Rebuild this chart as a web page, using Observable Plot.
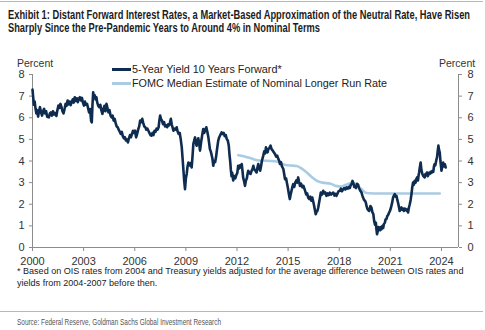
<!DOCTYPE html>
<html>
<head>
<meta charset="utf-8">
<script src="https://cdn.jsdelivr.net/npm/d3@7"></script>
<script src="https://cdn.jsdelivr.net/npm/@observablehq/plot@0.6"></script>
<style>
  html, body { margin: 0; padding: 0; background: #fff; }
  #wrap { position: relative; width: 485px; height: 330px; overflow: hidden; font-family: "Liberation Sans", Arial, sans-serif; }
  .rule { position: absolute; left: 0; width: 483px; height: 1px; background: #b8b8b8; }
  .fit { position: absolute; white-space: nowrap; display: inline-block; transform-origin: 0 50%; }
  .title { left: 8px; font-weight: bold; font-size: 12px; line-height: 13px; color: #1c1c1c; }
  #chart { position: absolute; left: 0; top: 58px; }
  .pct { position: absolute; top: 57px; font-size: 10.5px; color: #333; }
  .leg { position: absolute; left: 112px; font-size: 10.8px; color: #222; white-space: nowrap; }
  .leg span.sw { display: inline-block; width: 19px; height: 3px; vertical-align: middle; margin-right: 1px; position: relative; top: -1px; }
  #note { position: absolute; left: 17px; top: 266px; width: 468px; font-size: 9.05px; line-height: 11.5px; color: #222; }
  .source { left: 17px; top: 316px; font-size: 9.5px; line-height: 11px; color: #555; }
</style>
</head>
<body>
<div id="wrap">
  <div class="rule" style="top:1px"></div>
  <div class="fit title" style="top:9px" data-w="462">Exhibit 1: Distant Forward Interest Rates, a Market-Based Approximation of the Neutral Rate, Have Risen</div>
  <div class="fit title" style="top:21.5px" data-w="312">Sharply Since the Pre-Pandemic Years to Around 4% in Nominal Terms</div>
  <div id="chart"></div>
  <div class="pct" style="left:17px">Percent</div>
  <div class="pct" style="left:439px">Percent</div>
  <div class="leg" style="top:63px"><span class="sw" style="background:#0e2b50"></span>5-Year Yield 10 Years Forward*</div>
  <div class="leg" style="top:77px"><span class="sw" style="background:#a9cce4"></span>FOMC Median Estimate of Nominal Longer Run Rate</div>
  <div id="note">* Based on OIS rates from 2004 and Treasury yields adjusted for the average difference between OIS rates and yields from 2004-2007 before then.</div>
  <div class="rule" style="top:311px"></div>
  <div class="fit source" data-w="204">Source: Federal Reserve, Goldman Sachs Global Investment Research</div>
</div>
<script>
const xTicks = [2000, 2003, 2006, 2009, 2012, 2015, 2018, 2021, 2024];
const yTicks = [0, 1, 2, 3, 4, 5, 6, 7, 8];
const xDomain = [2000, 2025];
const yDomain = [0, 8];

// 5-Year Yield 10 Years Forward* : [year, percent]
const forwardYield = [
[2000.00,7.30],[2000.04,6.95],[2000.08,6.60],[2000.13,6.75],[2000.18,6.40],[2000.23,6.20],[2000.28,6.35],[2000.33,6.05],[2000.38,6.30],[2000.44,6.49],
[2000.50,6.25],[2000.56,6.10],[2000.62,6.30],[2000.68,6.41],[2000.74,6.20],[2000.80,6.30],[2000.86,6.05],[2000.96,6.02],[2001.02,6.20],[2001.08,6.25],
[2001.14,6.10],[2001.20,6.30],[2001.26,6.15],[2001.32,6.22],[2001.40,6.08],[2001.46,6.35],[2001.52,6.56],[2001.58,6.45],[2001.64,6.64],[2001.70,6.50],
[2001.76,6.30],[2001.82,6.20],[2001.88,6.40],[2001.94,6.64],[2002.00,6.55],[2002.06,6.80],[2002.12,6.62],[2002.18,6.75],[2002.24,6.58],[2002.30,6.72],
[2002.36,6.85],[2002.42,6.70],[2002.48,6.95],[2002.54,6.78],[2002.60,6.90],[2002.66,6.72],[2002.72,6.88],[2002.78,6.95],[2002.84,6.80],[2002.90,6.92],
[2002.96,6.70],[2003.02,6.56],[2003.08,6.75],[2003.14,6.60],[2003.20,6.64],[2003.26,6.45],[2003.32,6.25],[2003.38,6.40],[2003.44,5.85],[2003.48,5.79],
[2003.52,6.60],[2003.56,7.18],[2003.60,6.95],[2003.64,7.05],[2003.70,6.85],[2003.75,6.95],[2003.80,6.70],[2003.86,6.55],[2003.92,6.49],[2003.98,6.60],
[2004.04,6.35],[2004.10,6.18],[2004.16,6.40],[2004.22,6.55],[2004.28,6.30],[2004.34,6.64],[2004.40,6.45],[2004.46,6.25],[2004.52,6.35],[2004.58,6.10],
[2004.64,6.02],[2004.70,6.10],[2004.76,5.87],[2004.82,5.95],[2004.88,5.75],[2004.94,5.60],[2005.00,5.56],[2005.06,5.45],[2005.12,5.35],[2005.18,5.25],
[2005.24,5.35],[2005.30,5.15],[2005.36,5.05],[2005.42,5.10],[2005.48,4.95],[2005.54,5.00],[2005.60,4.86],[2005.66,5.05],[2005.72,5.20],[2005.78,5.10],
[2005.84,5.25],[2005.90,5.40],[2005.96,5.30],[2006.02,5.40],[2006.08,5.09],[2006.14,5.25],[2006.20,5.45],[2006.26,5.60],[2006.32,5.87],[2006.38,5.80],
[2006.44,5.95],[2006.50,5.75],[2006.56,5.60],[2006.62,5.56],[2006.68,5.45],[2006.74,5.50],[2006.80,5.40],[2006.86,5.30],[2006.92,5.20],[2006.98,5.17],
[2007.04,5.30],[2007.10,5.20],[2007.16,5.40],[2007.22,5.35],[2007.28,5.50],[2007.34,5.45],[2007.40,5.56],[2007.45,5.90],[2007.49,6.10],[2007.54,5.95],
[2007.60,5.87],[2007.66,5.70],[2007.72,5.80],[2007.78,5.60],[2007.84,5.65],[2007.90,5.56],[2007.96,5.70],[2008.02,5.65],[2008.07,5.79],[2008.12,5.95],
[2008.17,5.70],[2008.22,5.55],[2008.27,5.40],[2008.33,5.50],[2008.40,5.45],[2008.46,5.56],[2008.52,5.35],[2008.58,5.25],[2008.64,5.30],[2008.70,5.00],
[2008.76,4.63],[2008.80,4.20],[2008.86,3.55],[2008.90,3.10],[2008.95,2.70],[2009.00,3.20],[2009.05,3.40],[2009.10,3.75],[2009.15,3.93],[2009.22,3.80],
[2009.28,3.90],[2009.34,3.70],[2009.39,4.20],[2009.44,4.79],[2009.49,4.95],[2009.54,5.09],[2009.59,4.85],[2009.63,4.71],[2009.68,4.90],[2009.73,5.05],
[2009.78,4.80],[2009.83,4.48],[2009.90,4.90],[2009.96,5.20],[2010.02,5.48],[2010.08,5.30],[2010.14,5.45],[2010.20,5.56],[2010.26,5.35],[2010.32,5.10],
[2010.37,4.80],[2010.41,4.55],[2010.46,4.45],[2010.50,4.32],[2010.56,4.10],[2010.61,3.78],[2010.66,4.00],[2010.72,3.95],[2010.77,4.17],[2010.83,4.55],
[2010.90,4.94],[2010.96,5.10],[2011.02,5.20],[2011.10,5.32],[2011.16,5.25],[2011.22,5.30],[2011.28,5.15],[2011.34,5.20],[2011.40,5.02],[2011.46,4.95],
[2011.52,4.70],[2011.56,4.30],[2011.60,4.00],[2011.64,3.60],[2011.68,3.30],[2011.72,3.45],[2011.78,3.10],[2011.84,3.30],[2011.90,3.20],[2011.96,3.35],
[2012.02,3.45],[2012.07,3.78],[2012.12,3.65],[2012.18,3.80],[2012.24,3.70],[2012.28,3.86],[2012.33,3.50],[2012.36,3.24],[2012.42,3.05],[2012.47,2.85],
[2012.52,3.08],[2012.58,3.20],[2012.62,3.40],[2012.66,3.55],[2012.72,3.45],[2012.80,3.40],[2012.86,3.55],[2012.92,3.65],[2012.96,3.78],[2013.02,3.60],
[2013.08,3.55],[2013.15,3.47],[2013.20,3.70],[2013.25,3.86],[2013.30,3.65],[2013.36,3.55],[2013.40,3.70],[2013.46,4.00],[2013.54,4.24],[2013.60,4.45],
[2013.66,4.35],[2013.70,4.63],[2013.76,4.50],[2013.80,4.40],[2013.84,4.55],[2013.90,4.60],[2013.97,4.71],[2014.03,4.55],[2014.10,4.48],[2014.16,4.40],
[2014.23,4.32],[2014.30,4.20],[2014.36,4.25],[2014.43,4.09],[2014.48,4.00],[2014.52,3.86],[2014.58,3.95],[2014.64,3.75],[2014.72,3.63],[2014.77,3.40],
[2014.82,3.16],[2014.88,3.20],[2014.94,2.95],[2015.00,2.70],[2015.05,2.45],[2015.10,2.24],[2015.15,2.45],[2015.20,2.62],[2015.25,2.80],[2015.30,2.93],
[2015.36,2.80],[2015.42,3.00],[2015.48,3.10],[2015.54,3.00],[2015.59,3.24],[2015.64,3.05],[2015.70,2.85],[2015.76,2.95],[2015.84,2.78],[2015.90,2.85],
[2016.00,2.62],[2016.06,2.45],[2016.12,2.50],[2016.18,2.30],[2016.24,2.24],[2016.30,2.35],[2016.36,2.16],[2016.42,2.31],[2016.48,2.10],[2016.53,1.92],
[2016.58,1.70],[2016.62,1.54],[2016.67,1.65],[2016.72,1.69],[2016.77,1.85],[2016.82,2.08],[2016.87,2.30],[2016.92,2.54],[2016.98,2.45],[2017.06,2.62],
[2017.12,2.50],[2017.18,2.55],[2017.25,2.39],[2017.32,2.50],[2017.38,2.42],[2017.45,2.54],[2017.52,2.45],[2017.58,2.50],[2017.65,2.54],[2017.72,2.40],
[2017.78,2.48],[2017.84,2.39],[2017.90,2.50],[2017.96,2.60],[2018.04,2.62],[2018.10,2.72],[2018.16,2.60],[2018.23,2.70],[2018.30,2.75],[2018.36,2.68],
[2018.43,2.78],[2018.50,2.72],[2018.56,2.80],[2018.62,2.75],[2018.68,2.90],[2018.74,2.95],[2018.78,3.08],[2018.84,2.95],[2018.88,2.80],[2018.92,2.85],
[2018.98,2.75],[2019.04,2.95],[2019.11,2.90],[2019.16,2.75],[2019.22,2.65],[2019.31,2.54],[2019.36,2.40],[2019.40,2.31],[2019.46,2.20],[2019.52,2.15],
[2019.56,2.08],[2019.61,1.90],[2019.66,1.78],[2019.71,1.72],[2019.76,1.69],[2019.80,1.80],[2019.83,1.92],[2019.89,1.85],[2019.95,1.62],[2020.00,1.55],
[2020.05,1.23],[2020.10,1.05],[2020.15,1.15],[2020.19,0.80],[2020.22,0.61],[2020.26,0.75],[2020.30,0.95],[2020.34,0.92],[2020.40,0.80],[2020.44,0.95],
[2020.48,0.84],[2020.54,1.00],[2020.58,0.90],[2020.62,1.08],[2020.68,1.15],[2020.72,1.30],[2020.77,1.31],[2020.82,1.45],[2020.87,1.50],[2020.93,1.62],
[2020.98,1.70],[2021.04,1.85],[2021.10,2.05],[2021.16,2.31],[2021.21,2.40],[2021.26,2.47],[2021.31,2.35],[2021.36,2.39],[2021.41,2.20],[2021.45,2.08],
[2021.50,1.90],[2021.55,1.69],[2021.60,1.80],[2021.65,1.85],[2021.70,1.75],[2021.75,1.80],[2021.79,1.69],[2021.84,1.80],[2021.90,1.78],[2021.96,1.70],
[2022.00,1.75],[2022.04,1.62],[2022.09,1.85],[2022.14,2.00],[2022.19,2.20],[2022.24,2.47],[2022.28,2.75],[2022.33,3.00],[2022.38,2.90],[2022.43,3.08],
[2022.48,3.00],[2022.52,3.15],[2022.57,3.24],[2022.62,3.10],[2022.66,3.35],[2022.69,3.47],[2022.73,3.70],[2022.78,3.93],[2022.82,3.60],[2022.88,3.40],
[2022.94,3.30],[2023.02,3.24],[2023.06,3.40],[2023.10,3.35],[2023.15,3.47],[2023.20,3.30],[2023.26,3.45],[2023.31,3.40],[2023.36,3.50],[2023.42,3.45],
[2023.47,3.55],[2023.52,3.50],[2023.56,3.75],[2023.60,3.86],[2023.64,3.80],[2023.70,4.05],[2023.74,4.17],[2023.78,4.45],[2023.82,4.71],[2023.86,4.50],
[2023.90,4.40],[2023.94,4.00],[2024.00,3.55],[2024.05,3.75],[2024.10,3.93],[2024.15,3.75],[2024.20,3.85],[2024.25,3.70]
];

// FOMC Median Estimate of Nominal Longer Run Rate : [year, percent]
const fomcLongerRun = [
[2012.08,4.27],[2012.50,4.20],[2012.90,4.10],[2013.30,4.02],[2014.00,4.00],[2014.50,3.95],[2014.70,3.85],[2015.00,3.80],
[2015.50,3.77],[2015.80,3.65],[2016.10,3.47],[2016.40,3.25],[2016.70,3.08],[2017.00,3.00],[2017.50,2.95],[2017.80,2.85],
[2018.10,2.82],[2018.40,2.90],[2018.80,3.00],[2019.00,2.90],[2019.30,2.70],[2019.60,2.52],[2020.00,2.50],[2021.00,2.50],
[2022.00,2.50],[2023.00,2.50],[2023.90,2.50]
];

const axisColor = "#8c8c8c";
const chart = Plot.plot({
  width: 485,
  height: 209,
  marginTop: 16,
  marginBottom: 20,
  marginLeft: 32,
  marginRight: 27,
  style: { fontFamily: "'Liberation Sans', Arial, sans-serif", fontSize: "11px", color: "#333", background: "transparent" },
  x: { domain: xDomain },
  y: { domain: yDomain },
  marks: [
    Plot.ruleY([yDomain[0]], { stroke: axisColor }),
    Plot.ruleX(xDomain, { stroke: axisColor }),
    Plot.axisX({ ticks: xTicks, tickFormat: d => String(d), tickSize: 4, tickPadding: 6, label: null, stroke: axisColor }),
    Plot.axisY({ anchor: "left", ticks: yTicks, tickSize: 3, tickPadding: 5, label: null, stroke: axisColor }),
    Plot.axisY({ anchor: "right", ticks: yTicks, tickSize: 3, tickPadding: 6, label: null, stroke: axisColor }),
    Plot.line(fomcLongerRun, { x: d => d[0], y: d => d[1], stroke: "#a9cce4", strokeWidth: 2.6, curve: "monotone-x" }),
    Plot.line(forwardYield, { x: d => d[0], y: d => d[1], stroke: "#0e2b50", strokeWidth: 2.6, strokeLinejoin: "round" })
  ]
});
document.getElementById("chart").appendChild(chart);

// squeeze narrow-font texts to their measured widths in the reference
document.querySelectorAll(".fit").forEach(el => {
  const target = +el.dataset.w;
  const w = el.getBoundingClientRect().width;
  if (w > 0) el.style.transform = `scaleX(${target / w})`;
});
</script>
</body>
</html>
